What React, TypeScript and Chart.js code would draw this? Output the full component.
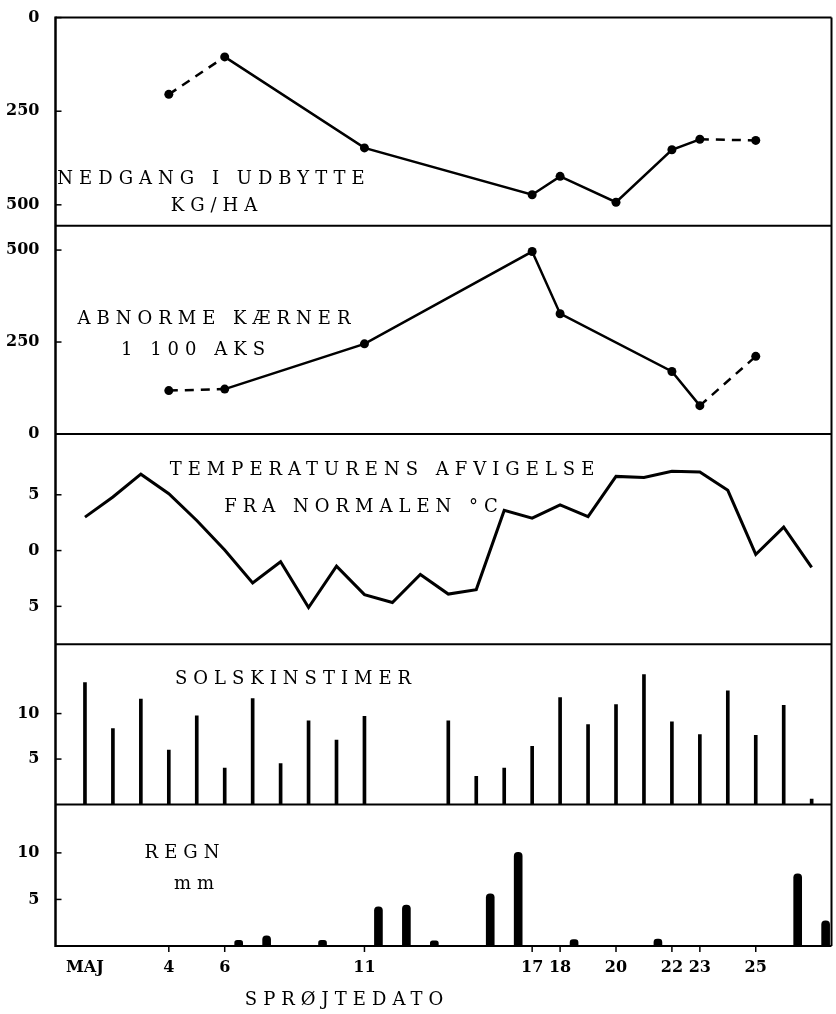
import React, { useEffect, useRef } from 'react';
import { Chart, registerables } from 'chart.js';

Chart.register(...registerables);

// ---- data ----
const yieldDays = [4, 6, 11, 17, 18, 20, 22, 23, 25];
const yieldLoss = [205, 105, 348, 473, 424, 493, 353, 325, 328];

const kernelDays = [4, 6, 11, 17, 18, 22, 23, 25];
const abnormalKernels = [118, 122, 245, 496, 327, 170, 77, 211];

const tempDays = [1, 2, 3, 4, 5, 6, 7, 8, 9, 10, 11, 12, 13, 14, 15, 16, 17, 18, 19, 20, 21, 22, 23, 24, 25, 26, 27];
const tempDeviation = [3.0, 4.8, 6.85, 5.1, 2.7, 0.05, -2.9, -1.0, -5.1, -1.4, -3.95, -4.65, -2.15, -3.9, -3.5, 3.6, 2.9, 4.1, 3.05, 6.65, 6.55, 7.1, 7.05, 5.4, -0.35, 2.1, -1.5];

const sunDays = [1, 2, 3, 4, 5, 6, 7, 8, 9, 10, 11, 14, 15, 16, 17, 18, 19, 20, 21, 22, 23, 24, 25, 26, 27];
const sunHours = [13.4, 8.35, 11.6, 6.0, 9.75, 4.0, 11.65, 4.5, 9.2, 7.1, 9.7, 9.2, 3.1, 4.0, 6.4, 11.75, 8.8, 11.0, 14.3, 9.1, 7.7, 12.5, 7.6, 10.9, 0.6];

const rainDays = [6.5, 7.5, 9.5, 11.5, 12.5, 13.5, 15.5, 16.5, 18.5, 21.5, 26.5, 27.5];
const rainMm = [0.6, 1.1, 0.6, 4.2, 4.4, 0.55, 5.6, 10.05, 0.7, 0.75, 7.75, 2.7];

const dateTicks = [1, 4, 6, 11, 17, 18, 20, 22, 23, 25];
const dateTickLabels = ['MAJ', '4', '6', '11', '17', '18', '20', '22', '23', '25'];

const yieldTicks = [0, 250, 500];
const kernelTicks = [0, 250, 500];
const tempTicks = [-5, 0, 5];
const sunTicks = [5, 10];
const rainTicks = [5, 10];

const xAxisTitle = 'SPRØJTEDATO';

// ---- layout / styling ----
const SERIF = '"DejaVu Serif", "Liberation Serif", serif';
const tickFont = { family: SERIF, size: 16, weight: 'bold' as const };
const panelIds = ['yYield', 'yKern', 'yTemp', 'ySun', 'yRain'];

const panelTexts: { scale: string; text: string; x: number; dy: number }[] = [
  { scale: 'yYield', text: 'NEDGANG I UDBYTTE', x: 211, dy: 166 },
  { scale: 'yYield', text: 'KG/HA', x: 214, dy: 193 },
  { scale: 'yKern', text: 'ABNORME KÆRNER', x: 214, dy: 98 },
  { scale: 'yKern', text: '1 100 AKS', x: 193, dy: 129 },
  { scale: 'yTemp', text: 'TEMPERATURENS AFVIGELSE', x: 382, dy: 41 },
  { scale: 'yTemp', text: 'FRA NORMALEN °C', x: 361, dy: 78 },
  { scale: 'ySun', text: 'SOLSKINSTIMER', x: 293, dy: 40 },
  { scale: 'yRain', text: 'REGN', x: 182, dy: 53 },
  { scale: 'yRain', text: 'mm', x: 194, dy: 84 },
];

const framePlugin = {
  id: 'panelFrame',
  afterDraw(chart: any) {
    const { ctx, chartArea: a, scales } = chart;
    ctx.save();
    ctx.strokeStyle = '#000';
    ctx.lineCap = 'butt';
    const line = (x1: number, y1: number, x2: number, y2: number, w: number) => {
      ctx.lineWidth = w;
      ctx.beginPath();
      ctx.moveTo(x1, y1);
      ctx.lineTo(x2, y2);
      ctx.stroke();
    };
    // outer frame
    line(a.left, a.top, a.right, a.top, 2);
    line(a.right, a.top, a.right, a.bottom, 2);
    line(a.left, a.top - 1, a.left, a.bottom + 1, 2.5);
    for (const id of panelIds) {
      const s = scales[id];
      line(a.left, s.bottom, a.right, s.bottom, 2);
      for (const t of s.ticks) {
        const y = s.getPixelForValue(t.value);
        line(a.left, y, a.left + 6, y, 1.5);
      }
    }
    const xs = scales.x;
    for (const t of xs.ticks) {
      if (t.value === dateTicks[0]) continue;
      const x = xs.getPixelForValue(t.value);
      line(x, a.bottom, x, a.bottom + 6, 1.5);
    }
    // panel texts
    ctx.fillStyle = '#000';
    ctx.textAlign = 'center';
    ctx.textBaseline = 'alphabetic';
    ctx.font = `18px ${SERIF}`;
    (ctx as any).letterSpacing = '6px';
    for (const p of panelTexts) {
      const s = scales[p.scale];
      ctx.fillText(p.text, p.x + 3, s.top + p.dy);
    }
    ctx.fillText(xAxisTitle, 347, a.bottom + 59);
    (ctx as any).letterSpacing = '0px';
    ctx.restore();
  },
};

function panelAxis(min: number, max: number, weight: number, values: number[], reverse = false, fmt?: (v: number) => string) {
  return {
    type: 'linear' as const,
    position: 'left' as const,
    stack: 'panels',
    stackWeight: weight,
    min,
    max,
    reverse,
    grid: { display: false },
    border: { display: false },
    afterBuildTicks: (s: any) => {
      s.ticks = values.map((v) => ({ value: v }));
    },
    afterFit: (s: any) => {
      s.width = 55.5;
    },
    ticks: {
      color: '#000',
      font: tickFont,
      padding: 8,
      callback: (v: any) => (fmt ? fmt(Number(v)) : String(v)),
    },
  };
}

export default function App() {
  const ref = useRef<HTMLCanvasElement | null>(null);

  useEffect(() => {
    document.body.style.margin = '0';
    if (!ref.current) return;
    const pts = (xs: number[], ys: number[]) => xs.map((x, i) => ({ x, y: ys[i] }));
    const dashEnds = (n: number) => (c: any) =>
      c.p0DataIndex === 0 || c.p1DataIndex === n - 1 ? [9, 7] : undefined;

    const chart = new Chart(ref.current, {
      type: 'line',
      data: {
        datasets: [
          {
            label: 'Nedgang i udbytte',
            data: pts(yieldDays, yieldLoss),
            yAxisID: 'yYield',
            borderColor: '#000',
            backgroundColor: '#000',
            borderWidth: 2.5,
            pointRadius: 4.5,
            pointBackgroundColor: '#000',
            pointBorderWidth: 0,
            segment: { borderDash: dashEnds(yieldDays.length) },
          } as any,
          {
            label: 'Abnorme kærner',
            data: pts(kernelDays, abnormalKernels),
            yAxisID: 'yKern',
            borderColor: '#000',
            backgroundColor: '#000',
            borderWidth: 2.5,
            pointRadius: 4.5,
            pointBackgroundColor: '#000',
            pointBorderWidth: 0,
            segment: { borderDash: dashEnds(kernelDays.length) },
          } as any,
          {
            label: 'Temperatur',
            data: pts(tempDays, tempDeviation),
            yAxisID: 'yTemp',
            borderColor: '#000',
            borderWidth: 3,
            pointRadius: 0,
            tension: 0,
            borderJoinStyle: 'miter',
          } as any,
          {
            type: 'bar',
            label: 'Solskinstimer',
            data: pts(sunDays, sunHours),
            yAxisID: 'ySun',
            backgroundColor: '#000',
            barThickness: 3,
            grouped: false,
          } as any,
          {
            type: 'bar',
            label: 'Regn',
            data: pts(rainDays, rainMm),
            yAxisID: 'yRain',
            backgroundColor: '#000',
            barThickness: 8,
            borderRadius: { topLeft: 4, topRight: 4, bottomLeft: 0, bottomRight: 0 },
            borderSkipped: 'start',
            grouped: false,
          } as any,
        ],
      },
      options: {
        animation: false,
        responsive: true,
        maintainAspectRatio: false,
        events: [],
        layout: { padding: { top: 14, right: 3, bottom: 38, left: 0 } },
        plugins: { legend: { display: false }, tooltip: { enabled: false } },
        scales: {
          x: {
            type: 'linear',
            offset: false,
            min: -0.054,
            max: 27.71,
            grid: { display: false, offset: false },
            border: { display: false },
            afterBuildTicks: (s: any) => {
              s.ticks = dateTicks.map((v) => ({ value: v }));
            },
            afterFit: (s: any) => {
              s.height = 30;
            },
            ticks: {
              autoSkip: false,
              maxRotation: 0,
              padding: 4,
              color: '#000',
              font: tickFont,
              callback: (_v: any, i: number) => dateTickLabels[i],
            },
          },
          // stacked panels: the scale listed first is placed at the bottom
          yRain: panelAxis(0, 15.19, 142, rainTicks),
          ySun: panelAxis(0, 17.63, 161, sunTicks),
          yTemp: panelAxis(-8.39, 10.45, 211, tempTicks, false, (v) => String(Math.abs(v))),
          yKern: panelAxis(0, 566, 209, kernelTicks),
          yYield: panelAxis(0, 556, 209, yieldTicks, true),
        } as any,
      },
      plugins: [framePlugin],
    });
    return () => chart.destroy();
  }, []);

  return (
    <div style={{ width: 836, height: 1014, position: 'relative', background: '#fff' }}>
      <canvas ref={ref} />
    </div>
  );
}
